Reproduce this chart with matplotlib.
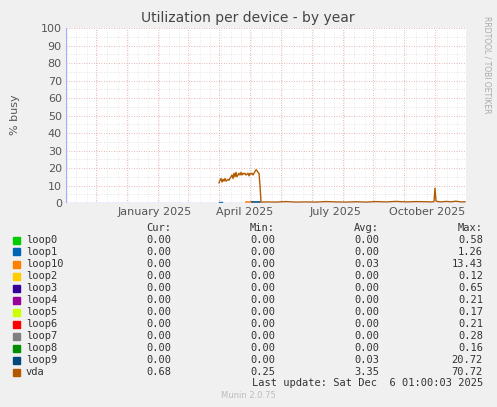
import matplotlib
matplotlib.use("Agg")
import matplotlib.pyplot as plt
import numpy as np

W, H = 497, 407
series = ["loop0","loop1","loop10","loop2","loop3","loop4","loop5","loop6","loop7","loop8","loop9","vda"]
colors = ["#00CC00","#0066B3","#FF8000","#FFCC00","#330099","#990099","#CCFF00","#FF0000","#808080","#008F00","#00487D","#B35A00"]
cur = ["0.00"]*11 + ["0.68"]
mins = ["0.00"]*11 + ["0.25"]
avgs = ["0.00","0.00","0.03","0.00","0.00","0.00","0.00","0.00","0.00","0.00","0.03","3.35"]
maxs = ["0.58","1.26","13.43","0.12","0.65","0.21","0.17","0.21","0.28","0.16","20.72","70.72"]

# x in days from left edge of the graph
vda_days = [153,154,155,156,157,158,159,160,161,162,163,164,165,166,167,168,169,170,171,172,173,174,175,176,177,178,179,180,181,182,183,184,185,186,187,188,189,190,191,192,193,194,195,196,
            200,210,220,230,240,250,260,270,280,290,300,310,320,330,340,350,360,366,368,369,370,371,372,375,380,385,390,395,399]
vda_vals = [11.5,13,14,12,13.5,12.5,14,12.5,13,13.5,13,14,15,16,14,17,15,17.5,15,16,17,16,17.5,16,17,16.5,17,16,16.5,17,15.5,17,16.5,17,16,17,18,19,18.5,17.5,17,10,0.6,0.5,
            0.6,0.5,0.8,0.5,0.6,0.5,0.8,0.6,0.5,0.7,0.5,0.8,0.6,0.9,0.6,0.8,0.7,0.6,0.8,8.5,1.2,0.9,0.8,0.6,0.9,0.7,1.0,0.6,0.7]
loop1_days = [153,156]; loop1_vals = [0.6,0.6]
loop10_days = [180,186]; loop10_vals = [0.6,0.6]
loop9_days = [186,194]; loop9_vals = [0.7,0.7]

grid_days = [-1,30,61,92,122,153,184,215,246,277,307,338,369,400]
label_days = [89,179,269,361]
label_txt = ["January 2025","April 2025","July 2025","October 2025"]

fig = plt.figure(figsize=(W/100, H/100), dpi=100, facecolor="#F0F0F0")
ax = fig.add_axes([66/W, 1-203/H, 400/W, 175/H], facecolor="white")
ax.set_xlim(0, 400); ax.set_ylim(0, 100)
for d in grid_days:
    ax.axvline(d, color="#E0A0A0", lw=0.6, ls=(0,(1,2)), zorder=1)
for d in np.arange(0, 400, 10.3):
    ax.axvline(d, color="#DDDDDD", lw=0.5, ls=(0,(1,2)), zorder=0)
for y in range(0, 101, 5):
    ax.axhline(y, color="#E0A0A0" if y % 10 == 0 else "#D8D8D8", lw=0.6, ls=(0,(1,2)), zorder=1)
ax.plot(loop1_days, loop1_vals, color=colors[1], lw=1)
ax.plot(loop10_days, loop10_vals, color=colors[2], lw=1.2)
ax.plot(loop9_days, loop9_vals, color=colors[10], lw=1.2)
ax.plot(vda_days, vda_vals, color=colors[11], lw=1)
ax.set_yticks(range(0, 101, 10))
ax.set_xticks(label_days); ax.set_xticklabels(label_txt)
ax.tick_params(labelsize=8, colors="#555555", length=0, pad=3)
for s in ax.spines.values(): s.set_visible(False)
ax.axhline(0, color="#AAAAFF", lw=1, zorder=3)
ax.axvline(0, color="#AAAAFF", lw=1, zorder=3)
fig.text(15/W, 1-115/H, "% busy", rotation=90, ha="center", va="center", fontsize=8, color="#555555")

fig.text(248/W, 1-18/H, "Utilization per device - by year", ha="center", va="center", fontsize=10, color="#444444")
fig.text(487/W, 1-65/H, "RRDTOOL / TOBI OETIKER", rotation=270, ha="center", va="center", fontsize=5.5, color="#AAAAAA")
fs = 7.5; fam = "DejaVu Sans Mono"
def t(x, y, s, ha="left", **kw):
    fig.text(x/W, 1-y/H, s, ha=ha, va="center", fontsize=fs, family=fam, color="#333333", **kw)
t(171, 228, "Cur:", "right"); t(275, 228, "Min:", "right"); t(379, 228, "Avg:", "right"); t(483, 228, "Max:", "right")
for i, n in enumerate(series):
    y = 240 + i*12
    fig.patches.append(plt.Rectangle((13/W, 1-(y+3.5)/H), 7/W, 7/H, transform=fig.transFigure, color=colors[i]))
    t(26, y, n); t(171, y, cur[i], "right"); t(275, y, mins[i], "right"); t(379, y, avgs[i], "right"); t(483, y, maxs[i], "right")
t(483, 383, "Last update: Sat Dec  6 01:00:03 2025", "right")
fig.text(248/W, 1-396/H, "Munin 2.0.75", ha="center", va="center", fontsize=6, color="#BBBBBB")
fig.savefig("out.png", dpi=100, facecolor=fig.get_facecolor())
